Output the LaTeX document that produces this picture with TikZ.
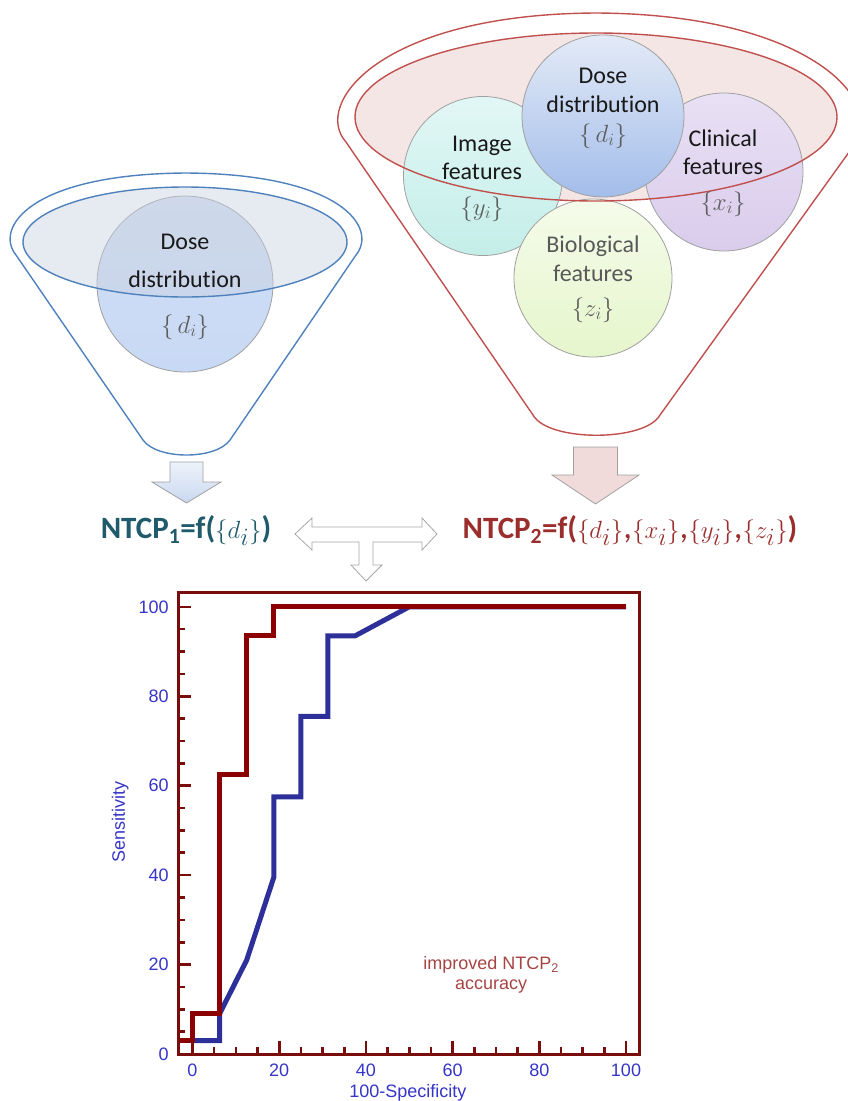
\documentclass[tikz,border=0pt]{standalone}
\usepackage{fontspec}
\setmainfont{Carlito}[Ligatures=NoCommon]
\newfontfamily\chartfont{Liberation Sans}
\definecolor{funblue}{HTML}{4F81BD}
\definecolor{funred}{HTML}{C0504D}
\definecolor{ntcpteal}{HTML}{1F5B6B}
\definecolor{ntcpred}{HTML}{9B2D2D}
\definecolor{plotframe}{HTML}{7A0C0C}
\definecolor{rocred}{HTML}{8B0000}
\definecolor{rocblue}{HTML}{2E309A}
\definecolor{axisblue}{HTML}{3535C8}
\definecolor{labelred}{HTML}{A64444}
\definecolor{bracegray}{HTML}{5E5E5E}
\definecolor{circedge}{HTML}{A0A0A0}
\definecolor{ldtop}{HTML}{D3DFF4}
\definecolor{ldbot}{HTML}{C8D9F5}
\definecolor{lell}{HTML}{C8D0E0}
\definecolor{rell}{HTML}{ECCECE}
\definecolor{imgtop}{HTML}{E2F7F5}
\definecolor{imgbot}{HTML}{C4EEE9}
\definecolor{clintop}{HTML}{E8E0F4}
\definecolor{clinbot}{HTML}{DACCEC}
\definecolor{biotop}{HTML}{F5FBEA}
\definecolor{biobot}{HTML}{E6F6CC}
\definecolor{rdtop}{HTML}{E3EAF7}
\definecolor{rdbot}{HTML}{A3BDEA}
\definecolor{barrtop}{HTML}{EEF3FB}
\definecolor{barrbot}{HTML}{C9D8F0}
\definecolor{rarr}{HTML}{F1DADA}
\newcommand{\setof}[1]{\ensuremath{\{\,#1\}}}
\begin{document}
\begin{tikzpicture}[x=1pt,y=-1pt,
  funnelline/.style={line width=1.4pt},
  featcircle/.style={circle, draw=circedge, line width=0.8pt, inner sep=0pt},
  ctext/.style={anchor=base, inner sep=1pt, font=\fontsize{24}{28}\selectfont, text=black!90},
  btext/.style={anchor=base, inner sep=1pt, font=\fontsize{26}{29}\selectfont, text=bracegray},
  blockarrow/.style={draw=circedge, line width=0.8pt},
  ticklbl/.style={font=\chartfont\fontsize{18}{20}\selectfont, text=axisblue},
  roc/.style={line width=5pt, line join=miter},
  tickline/.style={draw=plotframe, line width=2.6pt}
]
\useasboundingbox (0,0) rectangle (848,1101);

% ---------------- left funnel ----------------
\draw[funblue, funnelline] (16,255) .. controls (-6,228) and (30,174) .. (186,173)
  .. controls (342,174) and (378,228) .. (356,255) -- (230,440)
  .. controls (216,460) and (157,460) .. (143,440) -- cycle;
\node[featcircle, minimum size=176pt, top color=ldtop, bottom color=ldbot] (ldose) at (185,284) {};
\fill[lell, fill opacity=0.45] (185,242) ellipse [x radius=162, y radius=55];
\draw[funblue, funnelline] (185,242) ellipse [x radius=162, y radius=55];
\node[ctext] (ldose1) at (185,249) {Dose};
\node[ctext] (ldose2) at (185,287) {distribution};
\node[btext] (ldose3) at (185,333) {\setof{d_i}};

% ---------------- right funnel ----------------
\draw[funred, funnelline] (346,142) .. controls (312,104) and (380,14) .. (596,13)
  .. controls (812,14) and (890,104) .. (852,148) -- (660,415)
  .. controls (645,442) and (548,442) .. (533,415) -- cycle;
\fill[rell, fill opacity=0.5] (596,117) ellipse [x radius=241, y radius=84];
\node[featcircle, minimum size=159pt, top color=imgtop, bottom color=imgbot] (img) at (483,176) {};
\node[featcircle, minimum size=158pt, top color=clintop, bottom color=clinbot] (clin) at (724,172) {};
\node[featcircle, minimum size=158pt, top color=biotop, bottom color=biobot] (bio) at (593,278) {};
\node[featcircle, minimum size=162pt, top color=rdtop, bottom color=rdbot] (rdose) at (603,116) {};
\draw[funred, funnelline] (596,117) ellipse [x radius=241, y radius=84];

\node[ctext] (rdose1) at (603,83) {Dose};
\node[ctext] (rdose2) at (603,112) {distribution};
\node[btext] (rdose3) at (603,142) {\setof{d_i}};
\node[ctext] (img1) at (482,151) {Image};
\node[ctext] (img2) at (482,179) {features};
\node[btext] (img3) at (482,215) {$\{y_i\}$};
\node[ctext] (clin1) at (723,146) {Clinical};
\node[ctext] (clin2) at (723,174) {features};
\node[btext] (clin3) at (723,210) {$\{x_i\}$};
\node[ctext, text=black!65] (bio1) at (593,252) {Biological};
\node[ctext, text=black!65] (bio2) at (593,281) {features};
\node[btext] (bio3) at (593,316) {$\{z_i\}$};

% ---------------- block arrows ----------------
\draw[blockarrow, top color=barrtop, bottom color=barrbot]
  (170,462) -- (203,462) -- (203,482) -- (221,482) -- (186.5,503) -- (152,482) -- (170,482) -- cycle;
\draw[blockarrow, fill=rarr]
  (573.5,447) -- (617.5,447) -- (617.5,475) -- (639,475) -- (595.5,504) -- (552,475) -- (573.5,475) -- cycle;
\draw[blockarrow, fill=white, draw=black!35]
  (295,534) -- (312,518) -- (312,527) -- (422,527) -- (422,518) -- (437,534) -- (422,550) -- (422,542)
  -- (373,542) -- (373,565) -- (382,565) -- (366,581) -- (351,565) -- (359,565) -- (359,542)
  -- (312,542) -- (312,550) -- cycle;

% ---------------- NTCP labels ----------------
\node[anchor=base, text=ntcpteal, font=\fontsize{31}{34}\selectfont] (ntcp1) at (186,538)
  {\textbf{NTCP\textsubscript{1}=f(}{\fontsize{35}{38}\selectfont$\{d_i\}$}\textbf{)}};
\node[anchor=base, text=ntcpred, font=\fontsize{31}{34}\selectfont] (ntcp2) at (630,538)
  {\textbf{NTCP\textsubscript{2}=f(}{\fontsize{35}{38}\selectfont$\{d_i\}$,$\{x_i\}$,$\{y_i\}$,$\{z_i\}$}\textbf{)}};

% ---------------- ROC chart ----------------
\begin{scope}[shift={(192.5,1054)}, x=4.335pt, y=4.472pt]
  \draw[roc, rocblue] (0,3) -- (6.25,3) -- (6.25,9) -- (12.5,21) -- (18.75,39.5) -- (18.75,57.5)
    -- (25,57.5) -- (25,75.5) -- (31.25,75.5) -- (31.25,93.5) -- (37.5,93.5) -- (50,100) -- (100,100);
  \draw[roc, rocred] (-3.3,3) -- (0,3) -- (0,9) -- (6.25,9) -- (6.25,62.5) -- (12.5,62.5)
    -- (12.5,93.5) -- (18.75,93.5) -- (18.75,100) -- (100,100);
  \draw[plotframe, line width=3pt] (-3.34,0) rectangle (103.2,103.1);
  \foreach \v in {5,15,...,95} {
    \draw[tickline] (-3.34,\v) -- ++(1.6,0);
    \draw[tickline] (\v,0) -- ++(0,1.6);
  }
  \foreach \v in {10,30,...,90} {
    \draw[tickline] (-3.34,\v) -- ++(1.6,0);
    \draw[tickline] (\v,0) -- ++(0,1.6);
  }
  \foreach \v in {0,20,...,100} {
    \draw[tickline] (-3.34,\v) -- ++(3,0);
    \draw[tickline] (\v,0) -- ++(0,2.8);
    \node[ticklbl, anchor=east] at (-4.7,\v) {\v};
    \node[ticklbl] at (\v,-3.6) {\v};
  }
  \node[ticklbl, rotate=90] (ylab) at (-16.7,51.9) {Sensitivity};
  \node[ticklbl] (xlab) at (49.7,-8.7) {100-Specificity};
  \node[font=\chartfont\fontsize{18}{20}\selectfont, text=labelred] (impr1) at (68.9,19.9) {improved NTCP\textsubscript{2}};
  \node[font=\chartfont\fontsize{18}{20}\selectfont, text=labelred] (impr2) at (68.9,15) {accuracy};
\end{scope}
\end{tikzpicture}
\end{document}
